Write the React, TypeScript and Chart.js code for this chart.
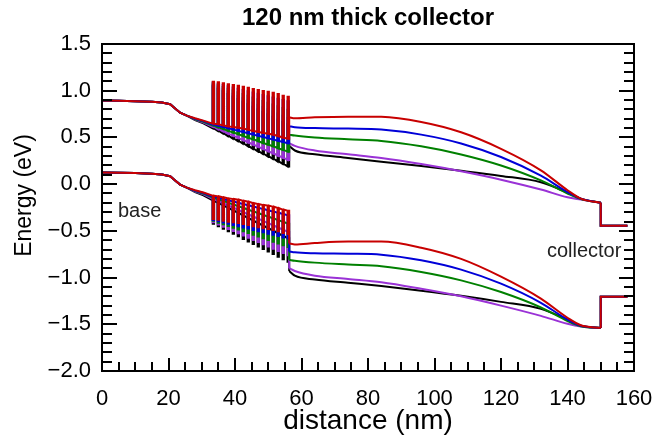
import React, { useEffect, useRef } from "react";
import { Chart, registerables } from "chart.js";

Chart.register(...registerables);

// ---------- text ----------
const TITLE = "120 nm thick collector";
const X_TITLE = "distance (nm)";
const Y_TITLE = "Energy (eV)";
const BASE_LABEL = { text: "base", x: 4.8, y: -0.35 };
const COLLECTOR_LABEL = { text: "collector", x: 133.8, y: -0.78 };

// ---------- axes ----------
const X_MIN = 0, X_MAX = 160, X_STEP = 20, X_MINOR = 5;
const Y_MIN = -2.0, Y_MAX = 1.5, Y_STEP = 0.5, Y_MINOR = 0.1;

// ---------- series (bias curves) ----------
const SERIES_NAMES = ["red", "blue", "green", "purple", "black"];
const SERIES_COLORS = ["#c80000", "#0000d8", "#008000", "#9a32d6", "#000000"];

// shared base region (all curves coincide)
const baseDist = [0, 5, 10, 15, 18, 20.5, 22, 23.5, 25.5];
const baseCB = [0.895, 0.892, 0.888, 0.882, 0.874, 0.855, 0.81, 0.765, 0.733];
const baseVB = [0.125, 0.122, 0.118, 0.112, 0.104, 0.085, 0.04, -0.005, -0.037];

// start of grade, before the superlattice barriers
const preDist = [28, 30.5];
const preCB = [
  [0.705, 0.68],
  [0.7, 0.675],
  [0.695, 0.668],
  [0.69, 0.66],
  [0.685, 0.65],
];
const preVB = [
  [-0.065, -0.09],
  [-0.07, -0.095],
  [-0.075, -0.102],
  [-0.08, -0.11],
  [-0.085, -0.12],
];

// superlattice barriers (chirped grade)
const spikeDist = [33.3, 34.8, 36.3, 37.8, 39.3, 40.8, 42.3, 43.8, 45.3, 46.8, 48.3, 49.8, 51.3, 52.8, 54.3, 55.8];
const barrierWidth = 0.4;
const barrierCB = 0.45; // conduction-band barrier height (eV)
const barrierVB = 0.25; // valence-band barrier depth (eV)

const gradedCB = [
  [0.647, 0.64, 0.629, 0.618, 0.611, 0.604, 0.593, 0.583, 0.568, 0.558, 0.547, 0.54, 0.529, 0.515, 0.497, 0.486],
  [0.637, 0.624, 0.61, 0.597, 0.584, 0.57, 0.557, 0.544, 0.53, 0.517, 0.504, 0.49, 0.477, 0.464, 0.45, 0.437],
  [0.627, 0.608, 0.59, 0.571, 0.552, 0.534, 0.515, 0.496, 0.478, 0.459, 0.44, 0.422, 0.403, 0.384, 0.366, 0.347],
  [0.612, 0.588, 0.565, 0.541, 0.518, 0.494, 0.47, 0.447, 0.423, 0.4, 0.376, 0.352, 0.329, 0.305, 0.282, 0.258],
  [0.597, 0.57, 0.543, 0.515, 0.488, 0.461, 0.434, 0.407, 0.379, 0.352, 0.325, 0.298, 0.271, 0.243, 0.216, 0.19],
];
const gradedVB = [
  [-0.123, -0.13, -0.141, -0.152, -0.159, -0.166, -0.177, -0.187, -0.202, -0.212, -0.223, -0.23, -0.241, -0.255, -0.273, -0.284],
  [-0.133, -0.146, -0.16, -0.173, -0.186, -0.2, -0.213, -0.226, -0.24, -0.253, -0.266, -0.28, -0.293, -0.306, -0.32, -0.333],
  [-0.143, -0.162, -0.18, -0.199, -0.218, -0.236, -0.255, -0.274, -0.292, -0.311, -0.33, -0.348, -0.367, -0.386, -0.404, -0.423],
  [-0.158, -0.182, -0.205, -0.229, -0.252, -0.276, -0.3, -0.323, -0.347, -0.37, -0.394, -0.418, -0.441, -0.465, -0.488, -0.512],
  [-0.173, -0.2, -0.227, -0.255, -0.282, -0.309, -0.336, -0.363, -0.391, -0.418, -0.445, -0.472, -0.499, -0.527, -0.554, -0.58],
];

// collector drift region
const collDist = [56.3, 58, 64, 74, 84, 96, 108, 120, 132, 140, 144, 150];
const collCB = [
  [0.715, 0.705, 0.715, 0.722, 0.72, 0.665, 0.555, 0.378, 0.148, -0.065, -0.155, -0.2],
  [0.62, 0.61, 0.6, 0.595, 0.585, 0.53, 0.435, 0.29, 0.09, -0.085, -0.155, -0.2],
  [0.53, 0.52, 0.5, 0.48, 0.462, 0.405, 0.318, 0.2, 0.04, -0.1, -0.16, -0.2],
  [0.44, 0.41, 0.36, 0.32, 0.28, 0.215, 0.138, 0.048, -0.058, -0.14, -0.165, -0.2],
  [0.41, 0.36, 0.32, 0.28, 0.24, 0.193, 0.143, 0.088, 0.02, -0.09, -0.155, -0.2],
];
const collVB = [
  [-0.635, -0.645, -0.63, -0.615, -0.615, -0.68, -0.8, -0.99, -1.225, -1.43, -1.51, -1.54],
  [-0.72, -0.73, -0.74, -0.745, -0.755, -0.815, -0.915, -1.065, -1.27, -1.45, -1.515, -1.54],
  [-0.81, -0.82, -0.84, -0.86, -0.878, -0.94, -1.03, -1.155, -1.32, -1.465, -1.52, -1.54],
  [-0.9, -0.93, -0.98, -1.015, -1.05, -1.12, -1.2, -1.3, -1.41, -1.495, -1.525, -1.54],
  [-0.93, -0.98, -1.02, -1.055, -1.09, -1.14, -1.195, -1.26, -1.335, -1.45, -1.515, -1.54],
];

// sub-collector
const subDist = [150, 158];
const subCB = [-0.445, -0.445];
const subVB = [-1.205, -1.205];

type Pt = { x: number; y: number | null };

function buildStraight(
  base: number[],
  pre: number[],
  graded: number[],
  coll: number[],
  sub: number[],
  offset: number
): Pt[] {
  const pts: Pt[] = [];
  baseDist.forEach((x, i) => pts.push({ x, y: base[i] }));
  preDist.forEach((x, i) => pts.push({ x, y: pre[i] }));
  spikeDist.forEach((x, i) => {
    const v = graded[i];
    pts.push({ x, y: v }, { x, y: v + offset }, { x: x + barrierWidth, y: v + offset }, { x: x + barrierWidth, y: v });
  });
  pts.push({ x: collDist[0], y: graded[graded.length - 1] });
  pts.push({ x: collDist[0], y: coll[0] });
  pts.push({ x: (collDist[0] + collDist[collDist.length - 1]) / 2, y: null });
  pts.push({ x: collDist[collDist.length - 1], y: coll[coll.length - 1] });
  subDist.forEach((x, i) => pts.push({ x, y: sub[i] }));
  return pts;
}

function buildDatasets() {
  const ds: any[] = [];
  SERIES_NAMES.forEach((name, s) => {
    const color = SERIES_COLORS[s];
    const common = {
      borderColor: color,
      backgroundColor: color,
      borderWidth: 2,
      pointRadius: 0,
      pointHoverRadius: 0,
      fill: false,
      spanGaps: false,
    };
    ds.push({
      ...common,
      label: name + " CB",
      data: buildStraight(baseCB, preCB[s], gradedCB[s], collCB[s], subCB, barrierCB),
      tension: 0,
    });
    ds.push({
      ...common,
      label: name + " CB collector",
      data: collDist.map((x, i) => ({ x, y: collCB[s][i] })),
      cubicInterpolationMode: "monotone",
    });
    ds.push({
      ...common,
      label: name + " VB",
      data: buildStraight(baseVB, preVB[s], gradedVB[s], collVB[s], subVB, -barrierVB),
      tension: 0,
    });
    ds.push({
      ...common,
      label: name + " VB collector",
      data: collDist.map((x, i) => ({ x, y: collVB[s][i] })),
      cubicInterpolationMode: "monotone",
    });
  });
  return ds;
}

const FONT = "'Liberation Sans', Arial, Helvetica, sans-serif";
const Y_TITLE_SIZE = 23;
const Y_TITLE_X = 25;
const Y_TITLE_SHIFT = -12;

const framePlugin = {
  id: "frameTicks",
  afterDraw(chart: any) {
    const { ctx, chartArea, scales } = chart;
    const { left, right, top, bottom } = chartArea;
    const xs = scales.x;
    const ys = scales.y;
    ctx.save();
    ctx.strokeStyle = "#000";
    ctx.lineWidth = 2;
    ctx.beginPath();
    ctx.rect(left, top, right - left, bottom - top);
    ctx.stroke();
    ctx.beginPath();
    const nx = Math.round((X_MAX - X_MIN) / X_MINOR);
    for (let i = 0; i <= nx; i++) {
      const v = X_MIN + i * X_MINOR;
      const px = Math.round(xs.getPixelForValue(v));
      const major = Math.abs(v / X_STEP - Math.round(v / X_STEP)) < 1e-6;
      const len = major ? 13 : 9;
      ctx.moveTo(px, bottom);
      ctx.lineTo(px, bottom - len);
    }
    const ny = Math.round((Y_MAX - Y_MIN) / Y_MINOR);
    for (let i = 0; i <= ny; i++) {
      const v = Y_MIN + i * Y_MINOR;
      const py = Math.round(ys.getPixelForValue(v));
      const major = Math.abs(v / Y_STEP - Math.round(v / Y_STEP)) < 1e-6;
      const len = major ? 15 : 10;
      ctx.moveTo(left, py);
      ctx.lineTo(left + len, py);
      ctx.moveTo(right, py);
      ctx.lineTo(right - len, py);
    }
    ctx.stroke();

    ctx.fillStyle = "#222";
    ctx.font = "20px " + FONT;
    ctx.textAlign = "left";
    ctx.textBaseline = "alphabetic";
    [BASE_LABEL, COLLECTOR_LABEL].forEach((l) => {
      ctx.fillText(l.text, xs.getPixelForValue(l.x), ys.getPixelForValue(l.y));
    });

    // y-axis title
    ctx.fillStyle = "#000";
    ctx.font = Y_TITLE_SIZE + "px " + FONT;
    ctx.textAlign = "center";
    ctx.textBaseline = "middle";
    ctx.translate(Y_TITLE_X, (top + bottom) / 2 + Y_TITLE_SHIFT);
    ctx.rotate(-Math.PI / 2);
    ctx.fillText(Y_TITLE, 0, 0);
    ctx.restore();
  },
};

export default function App() {
  const ref = useRef<HTMLCanvasElement | null>(null);
  useEffect(() => {
    if (!ref.current) return;
    Chart.defaults.font.family = FONT;
    Chart.defaults.color = "#000";
    const chart = new Chart(ref.current, {
      type: "line",
      data: { datasets: buildDatasets() },
      options: {
        responsive: false,
        animation: false,
        events: [],
        layout: { padding: { left: 0, right: 22, top: 0, bottom: 0 } },
        plugins: {
          legend: { display: false },
          tooltip: { enabled: false },
          title: {
            display: true,
            text: TITLE,
            fullSize: false,
            color: "#000",
            font: { size: 24, weight: "bold", family: FONT },
            padding: { top: 4, bottom: 11.2 },
          },
        },
        scales: {
          x: {
            type: "linear",
            min: X_MIN,
            max: X_MAX,
            grid: { display: false, drawTicks: false, tickLength: 0 },
            border: { display: false },
            ticks: { stepSize: X_STEP, font: { size: 22 }, padding: 15, maxRotation: 0, color: "#000" },
            title: { display: true, text: X_TITLE, font: { size: 28 }, padding: { top: 0, bottom: 3 }, color: "#000" },
            afterFit: (s: any) => {
              s.height = 70;
              s.paddingRight = 22;
              s.paddingLeft = 0;
            },
          },
          y: {
            type: "linear",
            min: Y_MIN,
            max: Y_MAX,
            grid: { display: false, drawTicks: false, tickLength: 0 },
            border: { display: false },
            ticks: {
              stepSize: Y_STEP,
              font: { size: 22 },
              padding: 11,
              color: "#000",
              callback: (v: any) => Number(v).toFixed(1).replace("-", "\u2212"),
            },
            title: { display: false, text: Y_TITLE },
            afterFit: (s: any) => {
              s.width = 102;
            },
          },
        },
      },
      plugins: [framePlugin],
    });
    return () => chart.destroy();
  }, []);
  return (
    <div style={{ position: "absolute", left: 0, top: 0, width: 656, height: 441, background: "#fff" }}>
      <canvas ref={ref} width={656} height={441} style={{ display: "block" }} />
    </div>
  );
}
